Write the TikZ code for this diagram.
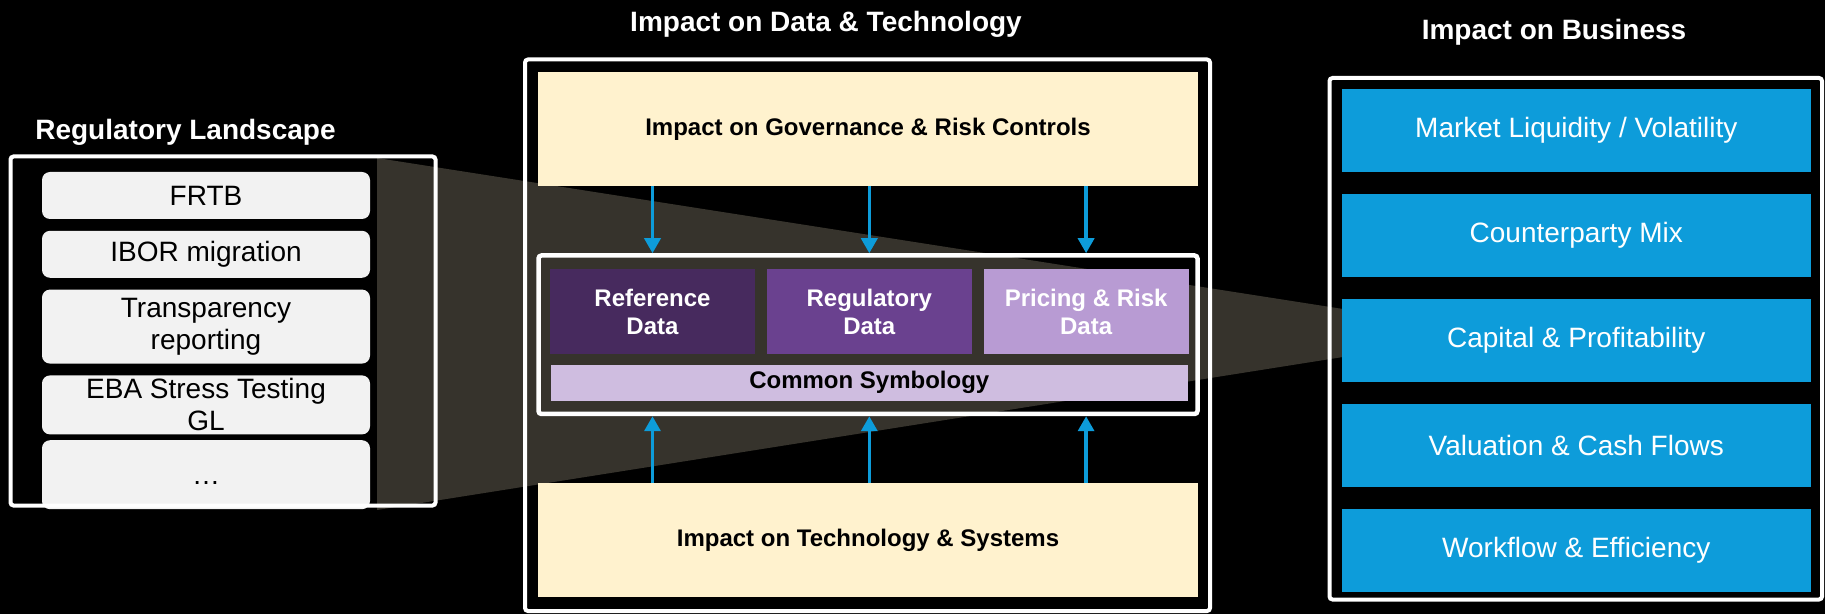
\documentclass[tikz,border=0pt]{standalone}
\usepackage{fontspec}
\setmainfont{Liberation Sans}
\usetikzlibrary{positioning,fit,arrows.meta}

\definecolor{funnelgray}{RGB}{54,51,44}
\definecolor{reggray}{RGB}{242,242,242}
\definecolor{cream}{RGB}{255,242,206}
\definecolor{refpurple}{RGB}{71,42,94}
\definecolor{regpurple}{RGB}{106,65,143}
\definecolor{pricepurple}{RGB}{184,155,211}
\definecolor{sympurple}{RGB}{207,189,224}
\definecolor{bizblue}{RGB}{13,156,218}

\tikzset{
    title nodes/.style={
        anchor=base,
        text=white,
        font=\fontsize{14}{16}\selectfont\bfseries,
        inner sep=0pt,
    },
    reg nodes/.style={
        rectangle,
        rounded corners=4pt,
        fill=reggray,
        align=center,
        minimum width=164pt,
        inner sep=0pt,
        font=\fontsize{14}{16}\selectfont,
    },
    frame/.style={
        rectangle,
        draw=white,
        line width=2pt,
        rounded corners=1.5pt,
        inner sep=0pt,
    },
    impact/.style={
        rectangle,
        fill=cream,
        align=center,
        minimum width=330pt,
        minimum height=57pt,
        font=\fontsize{12}{14}\selectfont\bfseries,
    },
    data nodes/.style={
        rectangle,
        align=center,
        text=white,
        minimum width=102.5pt,
        minimum height=42.5pt,
        inner sep=0pt,
        font=\fontsize{12}{14}\selectfont\bfseries,
    },
    biz/.style={
        rectangle,
        fill=bizblue,
        text=white,
        minimum width=234.25pt,
        minimum height=41.25pt,
        inner sep=0pt,
        font=\fontsize{14}{16}\selectfont,
    },
    connector/.style={
        -{Triangle[length=7.5pt,width=8pt]},
        draw=bizblue,
        line width=1.75pt,
    },
}

\begin{document}
\begin{tikzpicture}[x=0.5pt,y=-0.5pt]
    \fill[black] (0,0) rectangle (1825,614);
    \useasboundingbox (0,0) rectangle (1825,614);
    \fill[funnelgray] (377,158) -- (1343,309) -- (1343,357) -- (377,510) -- cycle;
    % regulatory landscape
    \node[title nodes] (tReg) at (185.5,140) {Regulatory Landscape};
    \node[reg nodes,minimum height=23.5pt] (frtb) at (206,195.5) {FRTB};
    \node[reg nodes,minimum height=23.5pt,below=5.5pt of frtb] (ibor) {IBOR migration};
    \node[reg nodes,minimum height=37pt,below=5.5pt of ibor] (transp) {Transparency\\reporting};
    \node[reg nodes,minimum height=29.5pt,below=5.5pt of transp] (eba) {EBA Stress Testing\\GL};
    \node[reg nodes,minimum height=34.5pt,text height=10pt,text depth=0pt,below=2.5pt of eba] (more) {…};
    \node[frame,minimum width=212.5pt,minimum height=174.5pt] (regbox) at (223,331) {};
    % data and technology
    \node[title nodes] (tDT) at (826,31.5) {Impact on Data \& Technology};
    \node[frame,minimum width=342.5pt,minimum height=275.75pt] (dtbox) at (867.5,335.25) {};
    \node[impact] (gov) at (868,129) {Impact on Governance \& Risk Controls};
    \node[impact] (tech) at (868,540) {Impact on Technology \& Systems};
    \node[frame,line width=2.25pt,minimum width=329.5pt,minimum height=79.25pt] (data) at (868,334.75) {};
    \node[data nodes,fill=refpurple] (ref) at (652.5,311.5) {Reference\\Data};
    \node[data nodes,fill=regpurple,right=5.5pt of ref] (regd) {Regulatory\\Data};
    \node[data nodes,fill=pricepurple,right=5.5pt of regd] (price) {Pricing \& Risk\\Data};
    \node[data nodes,fill=sympurple,text=black,minimum width=318.5pt,minimum height=18pt,below=5pt of regd] (sym) {Common Symbology};
    \draw[connector] (ref |- gov.south) -- (ref |- data.north);
    \draw[connector] (regd |- gov.south) -- (regd |- data.north);
    \draw[connector] (price |- gov.south) -- (price |- data.north);
    \draw[connector] (ref |- tech.north) -- (ref |- data.south);
    \draw[connector] (regd |- tech.north) -- (regd |- data.south);
    \draw[connector] (price |- tech.north) -- (price |- data.south);
    % business
    \node[title nodes] (tBiz) at (1554,40) {Impact on Business};
    \node[frame,minimum width=246.25pt,minimum height=260.75pt] (bizbox) at (1575.75,338.75) {};
    \node[biz] (mkt) at (1576.25,130.5) {Market Liquidity / Volatility};
    \node[biz,below=10.875pt of mkt] (cpty) {Counterparty Mix};
    \node[biz,below=10.875pt of cpty] (cap) {Capital \& Profitability};
    \node[biz,below=10.875pt of cap] (val) {Valuation \& Cash Flows};
    \node[biz,below=10.875pt of val] (wf) {Workflow \& Efficiency};
\end{tikzpicture}
\end{document}
